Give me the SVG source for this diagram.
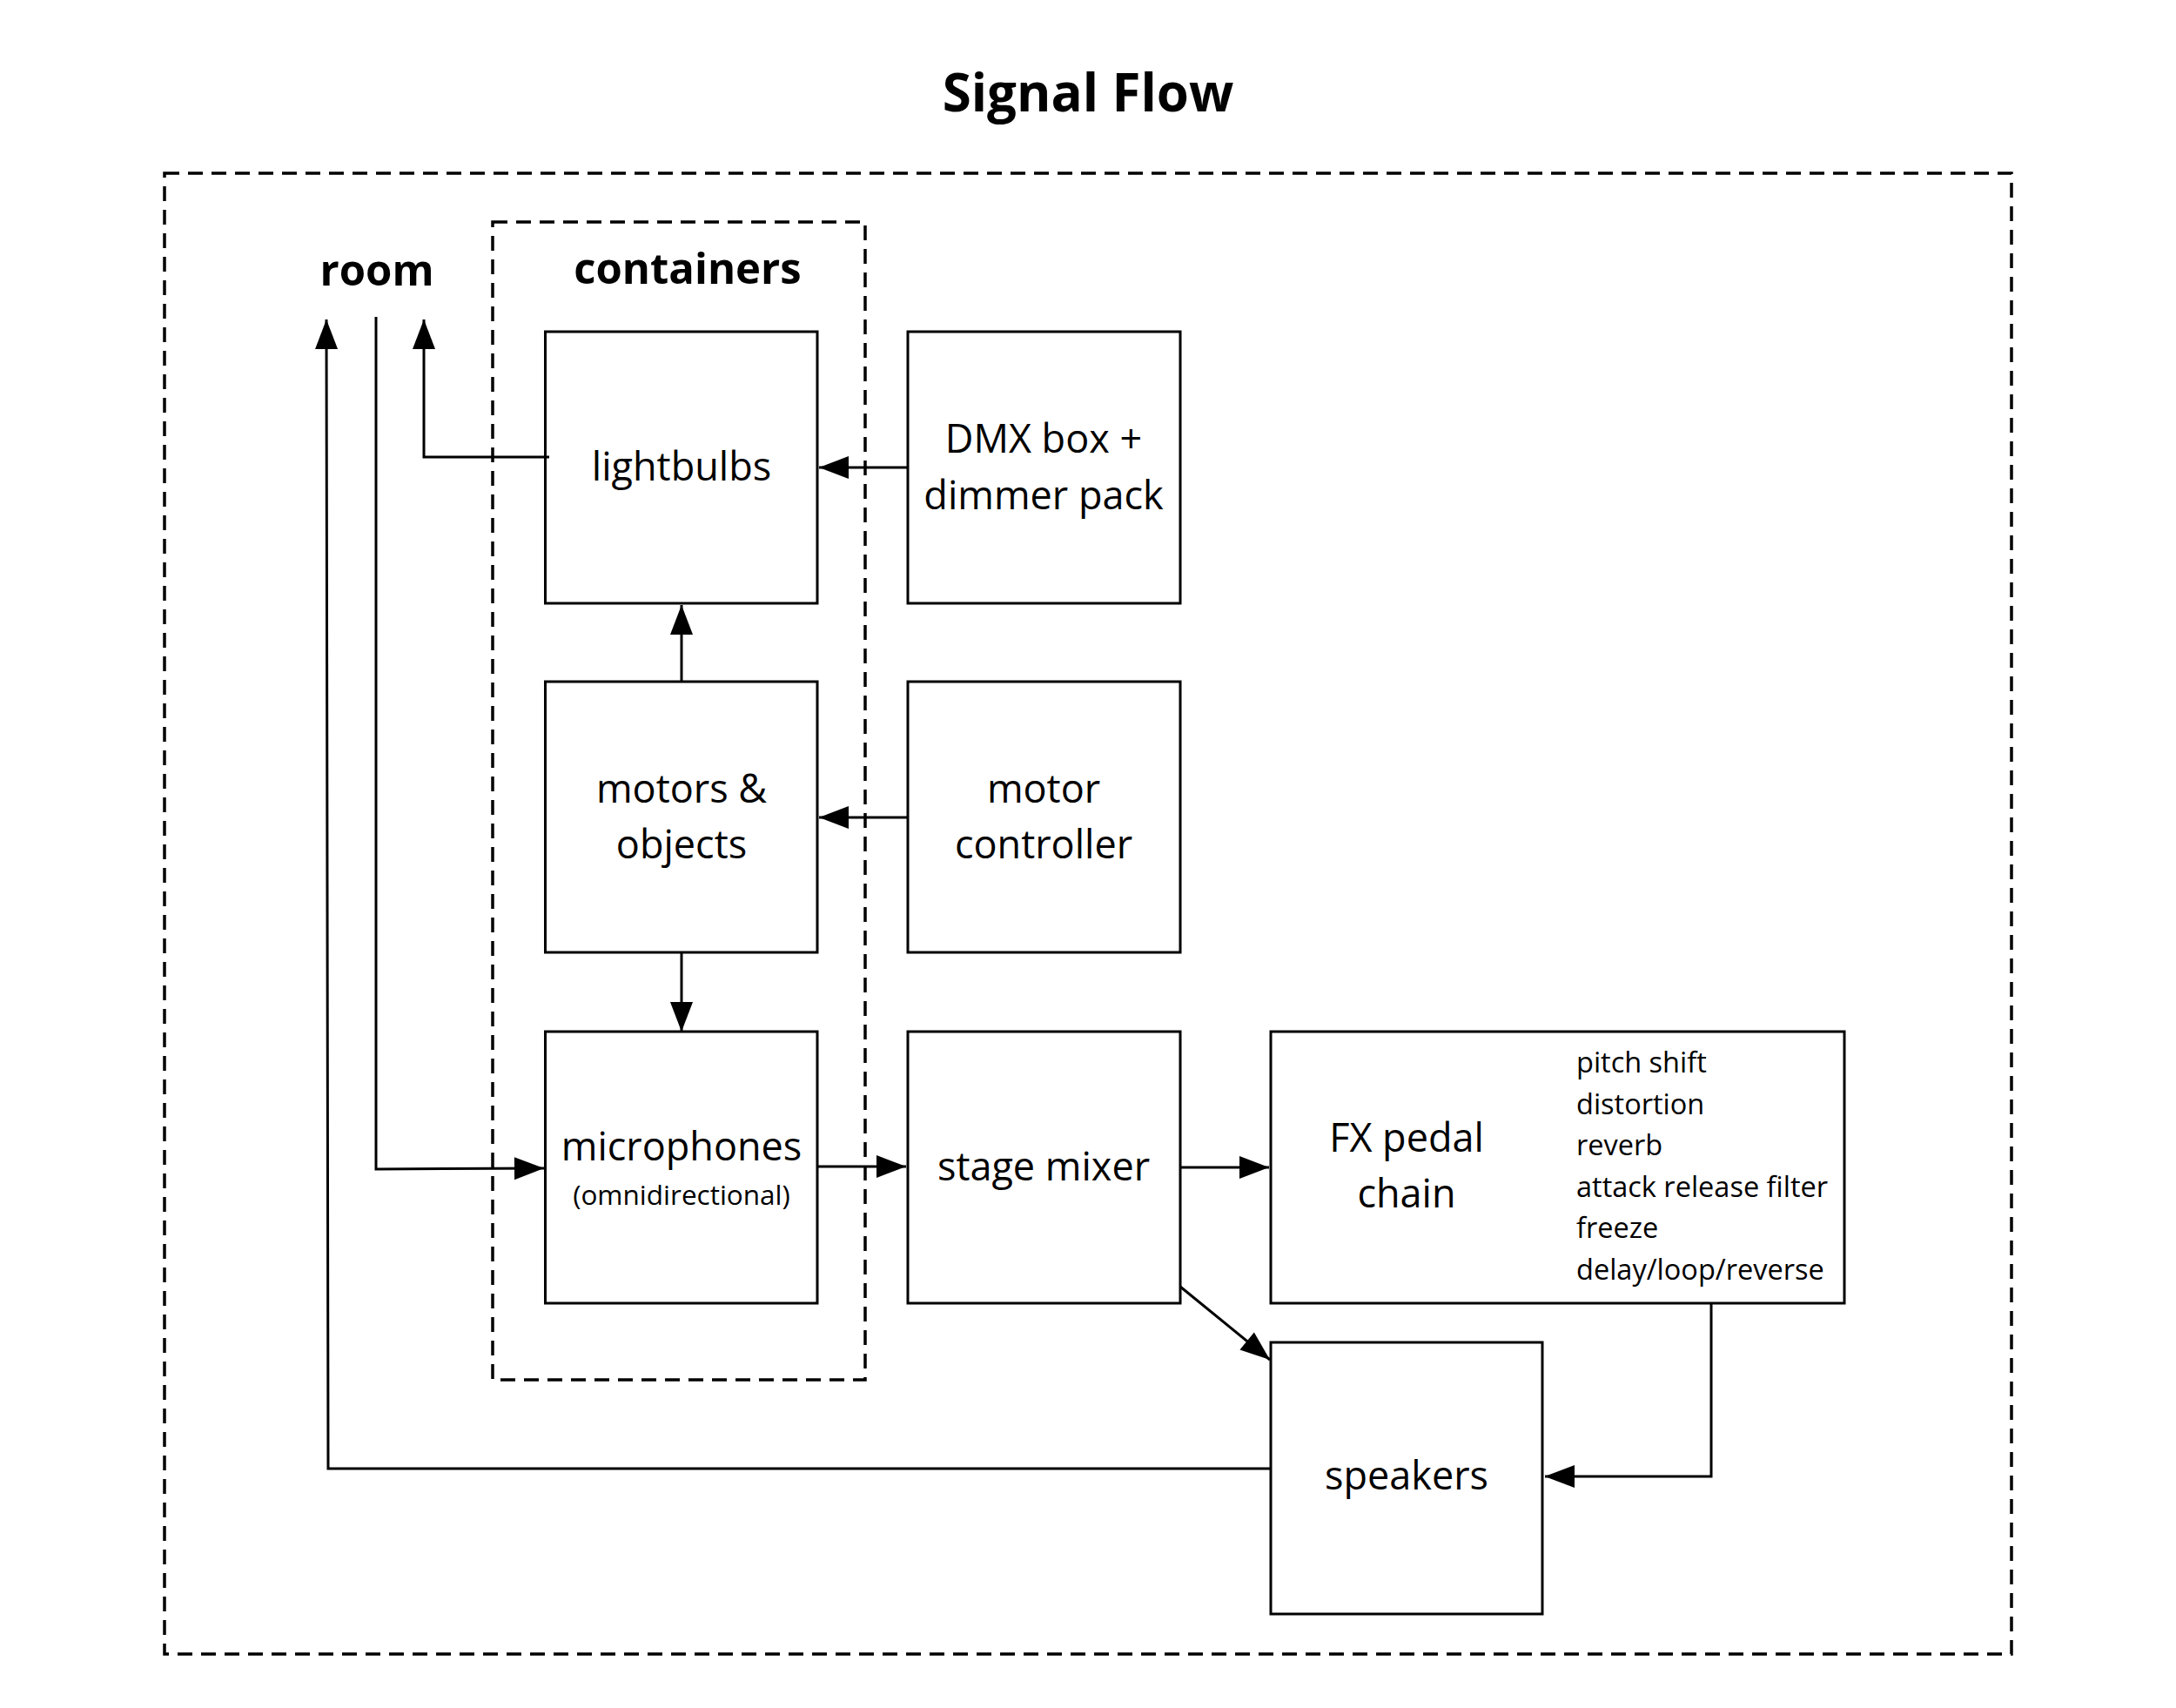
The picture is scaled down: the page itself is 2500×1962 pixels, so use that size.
<svg xmlns="http://www.w3.org/2000/svg" width="2500" height="1962" viewBox="0 0 2500 1962">
<style>
.bg{fill:#ffffff}
.box{fill:#ffffff;stroke:#000000;stroke-width:3}
.dash{fill:none;stroke:#000000;stroke-width:3.5;stroke-dasharray:17 10}
.wire{fill:none;stroke:#000000;stroke-width:3}
.lbl{font-family:"Open Sans","Noto Sans",sans-serif;font-size:45px;fill:#000000;text-anchor:middle}
.sub{font-family:"Open Sans","Noto Sans",sans-serif;font-size:31.5px;fill:#000000;text-anchor:middle}
.lst{font-family:"Open Sans","Noto Sans",sans-serif;font-size:32.5px;fill:#000000}
.hdr{font-family:"Open Sans","Noto Sans",sans-serif;font-size:49px;font-weight:bold;fill:#000000;text-anchor:middle}
.ttl{font-family:"Open Sans","Noto Sans",sans-serif;font-size:60px;font-weight:bold;fill:#000000;text-anchor:middle}
</style>
<defs>
<marker id="ah" markerUnits="userSpaceOnUse" markerWidth="36" markerHeight="28" viewBox="0 0 36 28" refX="35" refY="14" orient="auto">
<path d="M1,1 L35,14 L1,27 z" fill="#000000"/>
</marker>
</defs>
<rect class="bg" x="0" y="0" width="2500" height="1962"/>
<text class="ttl" x="1250" y="128">Signal Flow</text>
<g id="room-area">
<rect class="dash" x="189" y="199" width="2122" height="1701"/>
<text class="hdr" x="433" y="328">room</text>
</g>
<g id="containers">
<rect class="dash" x="566" y="255" width="428" height="1330"/>
<text class="hdr" x="790" y="326">containers</text>
</g>
<g id="lightbulbs">
<rect class="box" x="626.5" y="381" width="312.5" height="312"/>
<text class="lbl" x="783" y="552">lightbulbs</text>
</g>
<g id="dmx">
<rect class="box" x="1043" y="381" width="313" height="312"/>
<text class="lbl" x="1199" y="520">DMX box +</text>
<text class="lbl" x="1199" y="585">dimmer pack</text>
</g>
<g id="motors">
<rect class="box" x="626.5" y="783" width="312.5" height="311"/>
<text class="lbl" x="783" y="922">motors &amp;</text>
<text class="lbl" x="783" y="986">objects</text>
</g>
<g id="motor-controller">
<rect class="box" x="1043" y="783" width="313" height="311"/>
<text class="lbl" x="1199" y="922">motor</text>
<text class="lbl" x="1199" y="986">controller</text>
</g>
<g id="microphones">
<rect class="box" x="626.5" y="1185" width="312.5" height="312"/>
<text class="lbl" x="783" y="1333">microphones</text>
<text class="sub" x="783" y="1384">(omnidirectional)</text>
</g>
<g id="stage-mixer">
<rect class="box" x="1043" y="1185" width="313" height="312"/>
<text class="lbl" x="1199" y="1356">stage mixer</text>
</g>
<g id="fx-pedal-chain">
<rect class="box" x="1460" y="1185" width="659" height="312"/>
<text class="lbl" x="1616" y="1323">FX pedal</text>
<text class="lbl" x="1616" y="1387">chain</text>
<text class="lst" x="1811" y="1232">pitch shift</text>
<text class="lst" x="1811" y="1280">distortion</text>
<text class="lst" x="1811" y="1327">reverb</text>
<text class="lst" x="1811" y="1375">attack release filter</text>
<text class="lst" x="1811" y="1422">freeze</text>
<text class="lst" x="1811" y="1470">delay/loop/reverse</text>
</g>
<g id="speakers">
<rect class="box" x="1460" y="1542" width="312" height="312"/>
<text class="lbl" x="1616" y="1711">speakers</text>
</g>
<g id="connectors">
<line class="wire" x1="1043" y1="537" x2="941" y2="537" marker-end="url(#ah)"/>
<line class="wire" x1="1043" y1="939" x2="941" y2="939" marker-end="url(#ah)"/>
<line class="wire" x1="783" y1="783" x2="783" y2="695" marker-end="url(#ah)"/>
<line class="wire" x1="783" y1="1094" x2="783" y2="1185" marker-end="url(#ah)"/>
<line class="wire" x1="939" y1="1340" x2="1041" y2="1340" marker-end="url(#ah)"/>
<line class="wire" x1="1356" y1="1341" x2="1458" y2="1341" marker-end="url(#ah)"/>
<line class="wire" x1="1356" y1="1478" x2="1459" y2="1562" marker-end="url(#ah)"/>
<polyline class="wire" points="1966,1497 1966,1696 1775,1696" marker-end="url(#ah)"/>
<polyline class="wire" points="1460,1687 377,1687 375,367" marker-end="url(#ah)"/>
<polyline class="wire" points="432,364 432,1343 625,1342" marker-end="url(#ah)"/>
<polyline class="wire" points="631,525 487,525 487,367" marker-end="url(#ah)"/>
</g>
</svg>
